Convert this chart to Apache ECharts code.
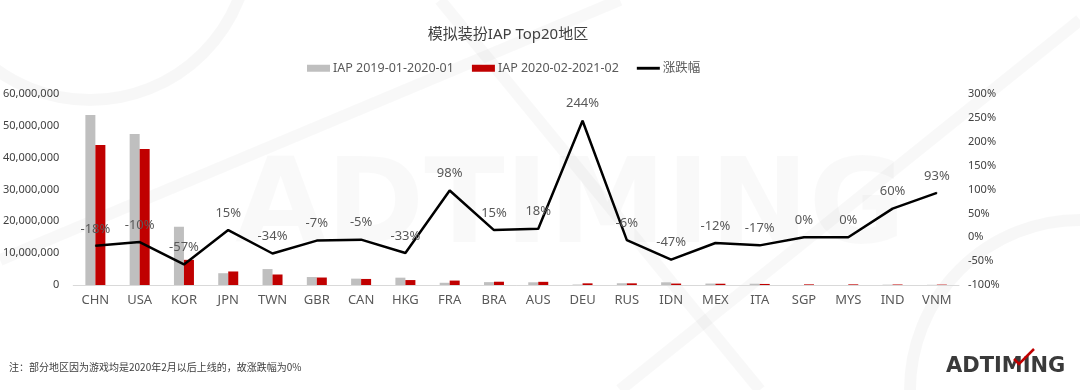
<!DOCTYPE html>
<html>
<head>
<meta charset="utf-8">
<script src="https://cdn.jsdelivr.net/npm/echarts@6/dist/echarts.min.js"></script>
<style>
html,body{margin:0;padding:0;background:#fff;}
#c{width:1080px;height:390px;}
</style>
</head>
<body>
<div id="c"></div>
<script>
const categories = ['CHN','USA','KOR','JPN','TWN','GBR','CAN','HKG','FRA','BRA','AUS','DEU','RUS','IDN','MEX','ITA','SGP','MYS','IND','VNM'];
const iap2019 = [53400000,47400000,18300000,3700000,5000000,2500000,2000000,2300000,700000,900000,850000,150000,550000,850000,450000,400000,0,0,100000,60000];
const iap2020 = [44000000,42700000,7900000,4250000,3300000,2350000,1900000,1550000,1390000,1030000,1000000,520000,520000,450000,400000,330000,200000,200000,160000,120000];
const change = [-18,-10,-57,15,-34,-7,-5,-33,98,15,18,244,-6,-47,-12,-17,0,0,60,93];
const seriesNames = ['IAP 2019-01-2020-01','IAP 2020-02-2021-02','涨跌幅'];
const titleText = '模拟装扮IAP Top20地区';
const noteText = '注：部分地区因为游戏均是2020年2月以后上线的，故涨跌幅为0%';

const FONT = '"Noto Sans","Noto Sans CJK SC",sans-serif';
const chart = echarts.init(document.getElementById('c'), null, {renderer:'canvas'});
chart.setOption({
  backgroundColor:'#ffffff',
  animation:false,
  textStyle:{fontFamily:FONT},
  title:{
    text:titleText, left:503, top:22, textAlign:'center',
    textStyle:{fontSize:15, fontWeight:'normal', color:'#404040', fontFamily:FONT}
  },
  legend:{
    left:302, top:57, itemGap:18, itemWidth:23, itemHeight:7,
    textStyle:{fontSize:12.5, color:'#595959', fontFamily:FONT, padding:[0,0,0,-2]},
    data:[
      {name:seriesNames[0], icon:'rect'},
      {name:seriesNames[1], icon:'rect'},
      {name:seriesNames[2], icon:'path://M0,3 L24,3 L24,6 L0,6 Z', itemStyle:{color:'#000'}}
    ]
  },
  graphic:[
    {type:'text', left:235, top:152, silent:true, z:-10,
      style:{text:'ADTIMING', font:'bold 118px "DejaVu Sans"', fill:'rgba(0,0,0,0.022)'}},
    {type:'circle', shape:{cx:90, cy:-60, r:160}, silent:true, z:-10,
      style:{fill:'none', stroke:'rgba(0,0,0,0.03)', lineWidth:12}},
    {type:'circle', shape:{cx:1080, cy:390, r:170}, silent:true, z:-10,
      style:{fill:'none', stroke:'rgba(0,0,0,0.03)', lineWidth:12}},
    {type:'line', shape:{x1:0, y1:260, x2:620, y2:0}, silent:true, z:-10,
      style:{stroke:'rgba(0,0,0,0.028)', lineWidth:12}},
    {type:'line', shape:{x1:440, y1:0, x2:760, y2:390}, silent:true, z:-10,
      style:{stroke:'rgba(0,0,0,0.028)', lineWidth:12}},
    {type:'line', shape:{x1:1080, y1:20, x2:620, y2:390}, silent:true, z:-10,
      style:{stroke:'rgba(0,0,0,0.028)', lineWidth:12}},
    {type:'text', left:9, top:362, silent:true,
      style:{text:noteText, font:'10px "Noto Sans CJK SC"', fill:'#404040'}},
    {type:'text', left:946, top:356, silent:true,
      style:{text:'ADTIMING', font:'bold 21px "DejaVu Sans"', fill:'#3a3a3a'}},
    {type:'polyline', silent:true,
      shape:{points:[[1014,359],[1019,364],[1034,349]]},
      style:{fill:'none', stroke:'#c00000', lineWidth:2.5}}
  ],
  grid:{left:70, right:121, top:94, bottom:105},
  xAxis:{
    type:'category', data:categories,
    axisLine:{lineStyle:{color:'#d9d9d9', width:1}},
    axisTick:{show:false},
    axisLabel:{fontSize:13, color:'#595959', margin:9, fontFamily:FONT, interval:0}
  },
  yAxis:[
    {type:'value', min:0, max:60000000, interval:10000000,
      splitLine:{show:false}, axisLine:{show:false}, axisTick:{show:false},
      axisLabel:{fontSize:11, color:'#404040', margin:14, fontFamily:FONT,
        formatter:v=>v.toLocaleString('en-US')}},
    {type:'value', min:-100, max:300, interval:50,
      splitLine:{show:false}, axisLine:{show:false}, axisTick:{show:false},
      axisLabel:{fontSize:11, color:'#404040', margin:9, fontFamily:FONT,
        formatter:'{value}%'}}
  ],
  series:[
    {name:seriesNames[0], type:'bar', data:iap2019, barWidth:10, barGap:'0%',
      itemStyle:{color:'#bfbfbf'}},
    {name:seriesNames[1], type:'bar', data:iap2020, barWidth:10, barGap:'0%',
      itemStyle:{color:'#c00000'}},
    {name:seriesNames[2], type:'line', yAxisIndex:1, data:change,
      symbol:'circle', symbolSize:1, showSymbol:true, showAllSymbol:true,
      lineStyle:{color:'#000000', width:2.5}, itemStyle:{color:'#000'},
      label:{show:true, position:'top', distance:10, fontSize:13, color:'#595959',
        fontFamily:FONT, formatter:p=>p.value+'%'},
      labelLayout:{hideOverlap:false}, z:5}
  ]
});
</script>
</body>
</html>
